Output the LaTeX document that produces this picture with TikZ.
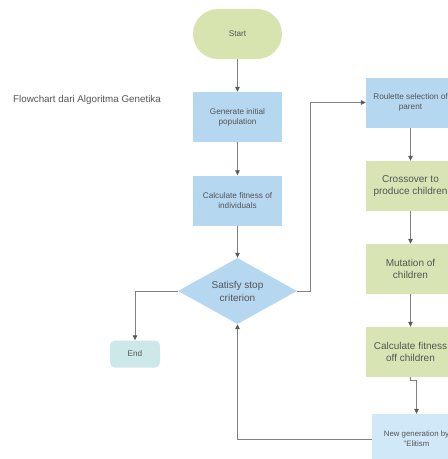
\documentclass[tikz,border=0pt]{standalone}
\usepackage{fontspec}
\setmainfont{Liberation Sans}
\usetikzlibrary{arrows.meta,shapes.geometric}
\definecolor{boxblue}{RGB}{181,215,239}
\definecolor{boxgreen}{RGB}{216,228,180}
\definecolor{startgreen}{RGB}{216,228,176}
\definecolor{endteal}{RGB}{205,232,232}
\definecolor{lightblue}{RGB}{208,232,247}
\definecolor{txt}{RGB}{85,85,85}
\definecolor{linegray}{RGB}{128,128,128}
\definecolor{tipgray}{RGB}{90,90,90}
\tikzset{
  base/.style={inner sep=0pt, align=center, text=txt, font=\fontsize{8.2}{10}\selectfont},
  bluebox/.style={base, fill=boxblue, minimum width=89pt, minimum height=50pt},
  greenbox/.style={base, fill=boxgreen, minimum width=89pt, minimum height=50pt, font=\fontsize{10}{12.3}\selectfont},
  conn/.style={draw=linegray, line width=0.8pt, -{Triangle[width=4.5pt,length=5pt,color=tipgray]}},
}
\begin{document}
\begin{tikzpicture}[x=1pt,y=-1pt]
\useasboundingbox (0,0) rectangle (448,459);
\clip (0,0) rectangle (448,459);
\fill[white] (0,0) rectangle (448,459);
\node[base, anchor=west, font=\fontsize{9.8}{12}\selectfont] (title) at (13,100) {Flowchart dari Algoritma Genetika};
\node[base, fill=startgreen, minimum width=89pt, minimum height=50pt, rounded corners=25pt] (start) at (237.5,34) {Start};
\node[bluebox] (gen) at (237.5,117) {Generate initial\\population};
\node[bluebox] (fit) at (237.5,200.5) {Calculate fitness of\\individuals};
\node[base, diamond, fill=boxblue, aspect=1.8, minimum width=119pt, minimum height=66pt, font=\fontsize{10}{13}\selectfont] (dec) at (237.5,291) {Satisfy stop\\criterion};
\node[base, fill=endteal, minimum width=50pt, minimum height=27pt, rounded corners=5pt] (end) at (135,354) {End};
\node[bluebox] (roul) at (410.5,102.5) {Roulette selection of\\parent};
\node[greenbox] (cross) at (410.5,186) {Crossover to\\produce children};
\node[greenbox] (mut) at (410.5,269) {Mutation of\\children};
\node[greenbox] (calc) at (410.5,352) {Calculate fitness\\off children};
\node[base, fill=lightblue, minimum width=89pt, minimum height=50pt, font=\fontsize{7.8}{10}\selectfont] (newgen) at (416.5,439) {New generation by\\"Elitism};
\coordinate (rx) at (310,291);
\draw[conn] (start) -- (gen);
\draw[conn] (gen) -- (fit);
\draw[conn] (fit) -- (dec);
\draw[conn] (dec.west) -| (end.north);
\draw[conn] (dec.east) -- (rx) |- (roul.west);
\draw[conn] (roul) -- (cross);
\draw[conn] (cross) -- (mut);
\draw[conn] (mut) -- (calc);
\draw[conn] (calc.south) -- ++(0,3) -| (newgen.north);
\draw[conn] (newgen.west) -| (dec.south);
\end{tikzpicture}
\end{document}
